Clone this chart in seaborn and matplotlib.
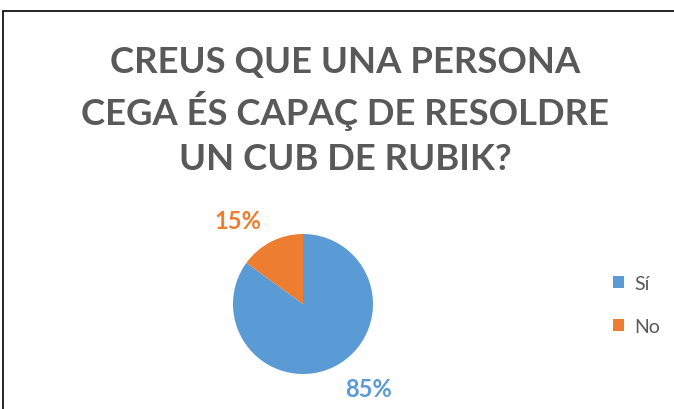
import matplotlib
matplotlib.use("Agg")
import matplotlib.pyplot as plt
import seaborn as sns
import numpy as np
from matplotlib.patches import Rectangle

categories = ["Sí", "No"]
values = [85, 15]
pct_labels = ["85%", "15%"]
colors = ["#5B9BD5", "#ED7D31"]
title_lines = ["CREUS QUE UNA PERSONA", "CEGA ÉS CAPAÇ DE RESOLDRE", "UN CUB DE RUBIK?"]

sns.set_theme(style="white")
plt.rcParams['font.family'] = ['Lato', 'DejaVu Sans']

W, H = 674, 410
fig = plt.figure(figsize=(W/100, H/100), dpi=100)
fig.patch.set_facecolor("white")

# border
fig.patches.append(Rectangle((3/W, -0.1), 2.0, (H-12)/H + 0.1, transform=fig.transFigure,
                             fill=False, edgecolor="#000000", linewidth=1.2))

gray = "#595959"
for i, line in enumerate(title_lines):
    y = [63, 111, 160][i]
    fig.text(345/W, 1 - y/H, line, ha="center", va="center", fontsize=26.3,
             fontweight="bold", color=gray)

cx, cy, r = 303, 305, 70
ax = fig.add_axes([(cx-r)/W, (H-cy-r)/H, 2*r/W, 2*r/H])
wedges, _ = ax.pie(values, colors=colors, startangle=90, counterclock=False,
                   radius=1, wedgeprops=dict(linewidth=0))
ax.set_xlim(-1, 1); ax.set_ylim(-1, 1)
ax.set_aspect("auto")
ax.axis("off")

# percentage labels
label_pos = {"85%": ((368-cx)/r, (cy-390)/r), "15%": ((238-cx)/r, (cy-222)/r)}
for lab, col in zip(pct_labels, colors):
    x, y = label_pos[lab]
    ax.text(x, y, lab, ha="center", va="center", fontsize=17, fontweight="bold",
            color=col, clip_on=False)

# legend
handles = [Rectangle((0, 0), 1, 1, facecolor=c, edgecolor="none") for c in colors]
leg = fig.legend(handles, categories, loc="center left", bbox_to_anchor=(613/W, 1 - 306/H),
                 frameon=False, fontsize=14, handlelength=0.55, handleheight=0.55,
                 labelspacing=1.35, handletextpad=0.55, borderpad=0, borderaxespad=0,
                 labelcolor=gray)

fig.savefig("out.png", dpi=100)
